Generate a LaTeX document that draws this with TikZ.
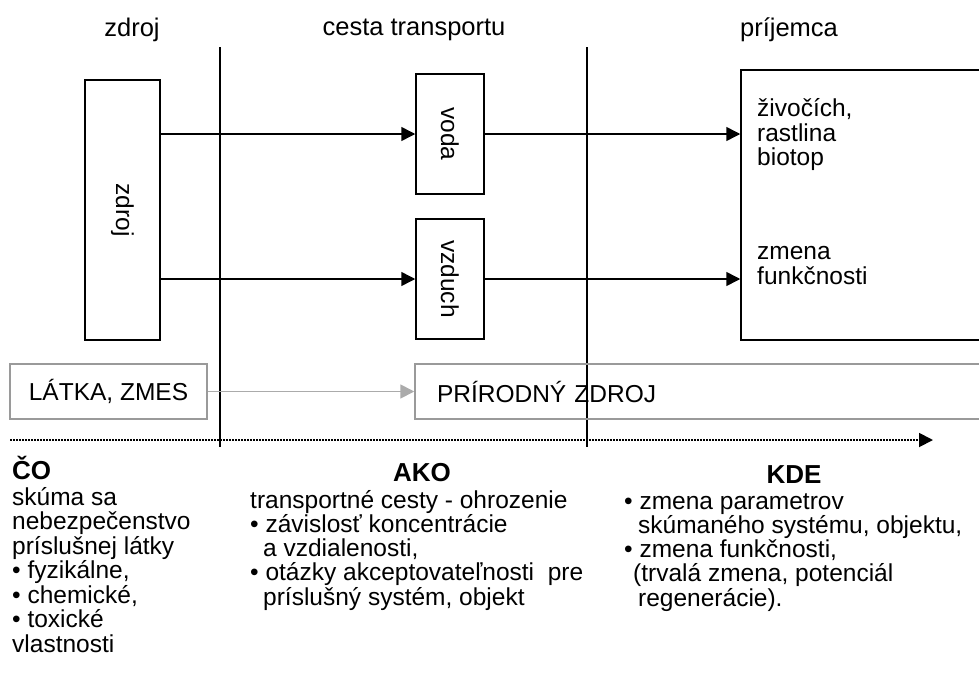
\documentclass[tikz,border=0pt]{standalone}
\usepackage{fontspec}
\setmainfont{Liberation Sans}
\usetikzlibrary{arrows.meta, positioning}
\definecolor{boxgray}{HTML}{9A9A9A}
\definecolor{arrgray}{HTML}{ABABAB}
\begin{document}
\begin{tikzpicture}[
        x=1pt, y=-1pt, >={Triangle[length=14pt,width=14pt]},
        every node/.style={font=\fontsize{24.5}{24.5}\selectfont},
        box/.style={draw, line width=1.5pt, inner sep=0pt},
        graybox/.style={draw=boxgray, line width=1.5pt, inner sep=0pt, minimum height=55},
        txt/.style={align=left, inner sep=0pt, anchor=base west},
        head/.style={font=\fontsize{26}{26}\selectfont\bfseries, inner sep=0pt},
        line/.style={line width=1.5pt},
        ]
        \useasboundingbox (0,0) rectangle (979,680);

        \node[font=\fontsize{25.5}{25.5}\selectfont] (h_zdroj) at (132,30) {zdroj};
        \node[font=\fontsize{25.5}{25.5}\selectfont] (h_cesta) at (414,30) {cesta transportu};
        \node[font=\fontsize{25.5}{25.5}\selectfont] (h_prij) at (789,30) {príjemca};

        \coordinate (v1_top) at (220,47);
        \coordinate (v1_bot) at (220,447);
        \coordinate (v2_top) at (587,47);
        \coordinate (v2_bot) at (587,447);
        \draw[line] (v1_top) -- (v1_bot);
        \draw[line] (v2_top) -- (v2_bot);

        \node[box, minimum width=75, minimum height=260] (zdroj) at (122.5,210) {};
        \node[rotate=-90] at (zdroj) {zdroj};
        \node[box, minimum width=68, minimum height=120] (voda) at (450,134) {};
        \node[rotate=-90] at (voda) {voda};
        \node[box, minimum width=68, minimum height=120] (vzduch) at (450,279) {};
        \node[rotate=-90] at (vzduch) {vzduch};
        \node[box, minimum width=259, minimum height=270] (prij) at (870.5,205) {};

        \node[txt] (prij_1) at (757,165.5) {živočích,\\rastlina\\biotop};
        \node[txt] (prij_2) at (757,284) {zmena\\funkčnosti};

        \path[->, line] (zdroj.east |- voda) edge (voda)
        (voda) edge (prij.west |- voda)
        (zdroj.east |- vzduch) edge (vzduch)
        (vzduch) edge (prij.west |- vzduch);

        \node[graybox, minimum width=197] (latka) at (108.5,391.5) {LÁTKA, ZMES};
        \node[graybox, text width=541, inner xsep=22, align=left] (prirod) at (707.5,391.5) {PRÍRODNÝ ZDROJ};
        \draw[->, line width=1.8pt, arrgray] (latka) -- (prirod);

        \coordinate (os_start) at (10,440);
        \coordinate (os_end) at (933,440);
        \draw[->, line width=1.8pt, dash pattern=on 1.5pt off 1.5pt] (os_start) -- (os_end);

        \node[head, anchor=west] (co) at (12,468) {ČO};
        \node[head] (ako) at (422,473) {AKO};
        \node[head] (kde) at (794,475) {KDE};

        \node[txt] (co_txt) at (12,652) {skúma sa\\nebezpečenstvo\\príslušnej látky\\• fyzikálne,\\• chemické,\\• toxické\\vlastnosti};
        \node[txt, font=\fontsize{24.5}{24.25}\selectfont] (ako_txt) at (250,605) {transportné cesty - ohrozenie\\• závislosť koncentrácie\\\hspace*{13pt}a vzdialenosti,\\• otázky akceptovateľnosti~ pre\\\hspace*{13pt}príslušný systém, objekt};
        \node[txt, font=\fontsize{24.5}{24.25}\selectfont] (kde_txt) at (624,606) {• zmena parametrov\\\hspace*{14pt}skúmaného systému, objektu,\\• zmena funkčnosti,\\\hspace*{9pt}(trvalá zmena, potenciál\\\hspace*{14pt}regenerácie).};
      \end{tikzpicture}
\end{document}
